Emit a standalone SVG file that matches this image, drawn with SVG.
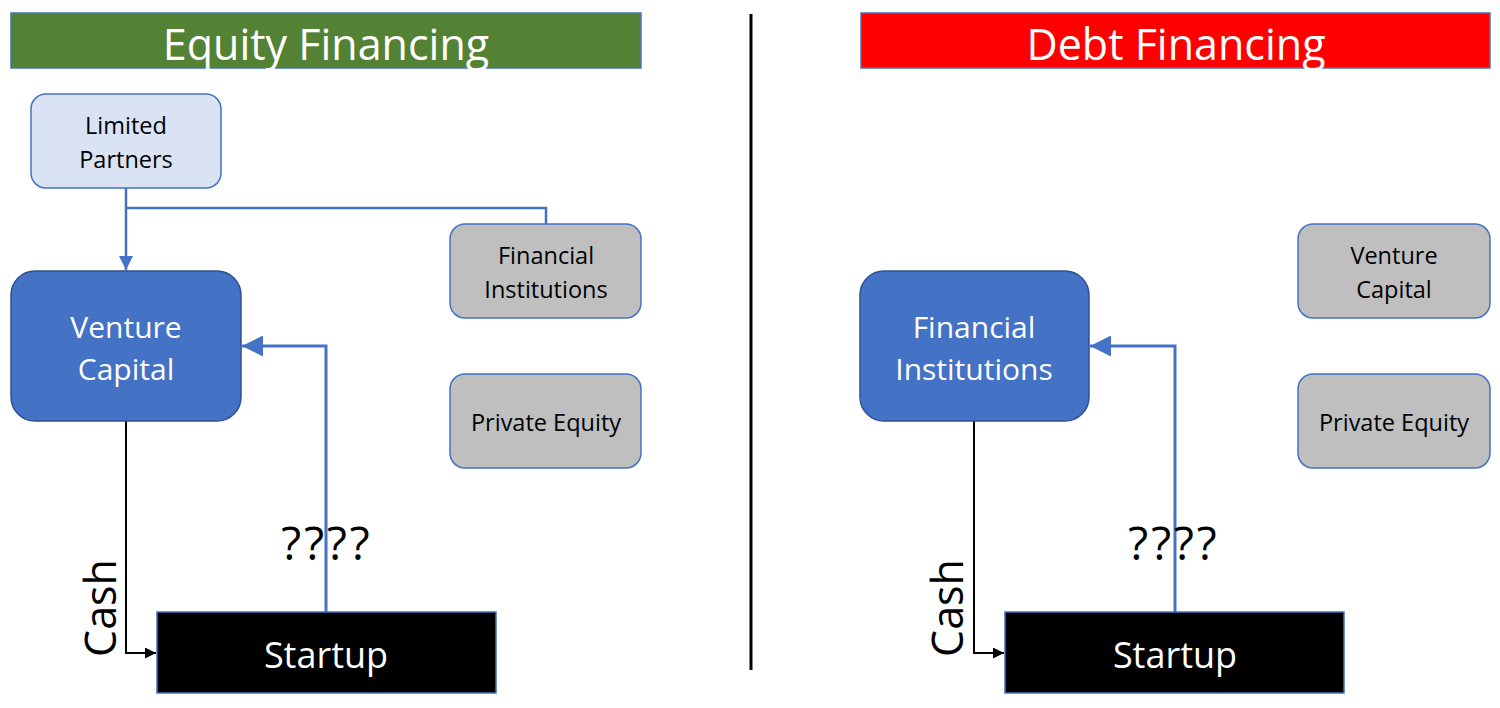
<svg xmlns="http://www.w3.org/2000/svg" width="1500" height="708" viewBox="0 0 1500 708">
<style>
text{font-family:"Open Sans","Liberation Sans",sans-serif;text-anchor:middle}
.hdr{stroke:#4472C4;stroke-width:1.5}
.hdrt{fill:#fff;font-size:43px}
.lp{fill:#DAE3F3;stroke:#4472C4;stroke-width:1.5}
.gray{fill:#BFBFBF;stroke:#4472C4;stroke-width:1.5}
.main{fill:#4472C4;stroke:#2F528F;stroke-width:1.5}
.start{fill:#000;stroke:#4472C4;stroke-width:1.5}
.t20{font-size:23.5px;fill:#000}
.t26{font-size:30px;fill:#fff}
.t32{font-size:36px;fill:#fff}
.lbl{font-size:46px;fill:#000}
.cash{font-size:43px;fill:#000}
.q{letter-spacing:3px}
.blue{fill:none;stroke:#4472C4;stroke-width:3}
.blk{fill:none;stroke:#000;stroke-width:2}
</style>
<defs>
<marker id="ab" viewBox="0 0 10 10" refX="10" refY="5" markerWidth="16" markerHeight="14" markerUnits="userSpaceOnUse" orient="auto">
<path d="M0,0L10,5L0,10z" fill="#4472C4"/>
</marker>
<marker id="ab2" viewBox="0 0 10 10" refX="10" refY="5" markerWidth="25" markerHeight="21" markerUnits="userSpaceOnUse" orient="auto">
<path d="M0,0L10,5L0,10z" fill="#4472C4"/>
</marker>
<marker id="ak" viewBox="0 0 10 10" refX="10" refY="5" markerWidth="16" markerHeight="11" markerUnits="userSpaceOnUse" orient="auto">
<path d="M0,0L10,5L0,10z" fill="#000"/>
</marker>
</defs>
<g id="connectors">
<path class="blue" d="M126,188V270" style="stroke-width:2.5" marker-end="url(#ab)"/>
<path class="blue" d="M126,208H546V224" style="stroke-width:2.5"/>
<path class="blue" d="M326,612V346H242" marker-end="url(#ab2)"/>
<path class="blk" d="M126,421V653H156" marker-end="url(#ak)"/>
<path class="blue" d="M1175,612V346H1090" marker-end="url(#ab2)"/>
<path class="blk" d="M974,421V653H1004" marker-end="url(#ak)"/>
<line x1="751" y1="14" x2="751" y2="670" stroke="#000" stroke-width="3"/>
</g>
<g id="equity-header">
<rect class="hdr" x="11" y="13" width="630" height="55" fill="#548235"/>
<text class="hdrt" x="326" y="60">Equity Financing</text>
</g>
<g id="debt-header">
<rect class="hdr" x="861" y="13" width="629" height="55" fill="#FF0000"/>
<text class="hdrt" x="1176" y="60">Debt Financing</text>
</g>
<g id="limited-partners">
<rect class="lp" x="31" y="94" width="190" height="94" rx="15"/>
<text class="t20" x="126" y="134">Limited</text>
<text class="t20" x="126" y="168">Partners</text>
</g>
<g id="fi-left">
<rect class="gray" x="450" y="224" width="191" height="94" rx="15"/>
<text class="t20" x="546" y="264">Financial</text>
<text class="t20" x="546" y="298">Institutions</text>
</g>
<g id="pe-left">
<rect class="gray" x="450" y="374" width="191" height="94" rx="15"/>
<text class="t20" x="546" y="431">Private Equity</text>
</g>
<g id="vc-left">
<rect class="main" x="11" y="271" width="230" height="150" rx="24"/>
<text class="t26" x="126" y="338">Venture</text>
<text class="t26" x="126" y="380">Capital</text>
</g>
<g id="startup-left">
<rect class="start" x="157" y="612" width="339" height="81"/>
<text class="t32" x="326" y="668">Startup</text>
</g>
<text class="lbl q" x="327" y="560">????</text>
<text class="cash" transform="translate(116,608) rotate(-90)">Cash</text>
<g id="fi-right">
<rect class="main" x="860" y="271" width="229" height="150" rx="24"/>
<text class="t26" x="974" y="338">Financial</text>
<text class="t26" x="974" y="380">Institutions</text>
</g>
<g id="vc-right">
<rect class="gray" x="1298" y="224" width="192" height="94" rx="15"/>
<text class="t20" x="1394" y="264">Venture</text>
<text class="t20" x="1394" y="298">Capital</text>
</g>
<g id="pe-right">
<rect class="gray" x="1298" y="374" width="192" height="94" rx="15"/>
<text class="t20" x="1394" y="431">Private Equity</text>
</g>
<g id="startup-right">
<rect class="start" x="1005" y="612" width="339" height="81"/>
<text class="t32" x="1175" y="668">Startup</text>
</g>
<text class="lbl q" x="1174" y="560">????</text>
<text class="cash" transform="translate(963,608) rotate(-90)">Cash</text>
</svg>
